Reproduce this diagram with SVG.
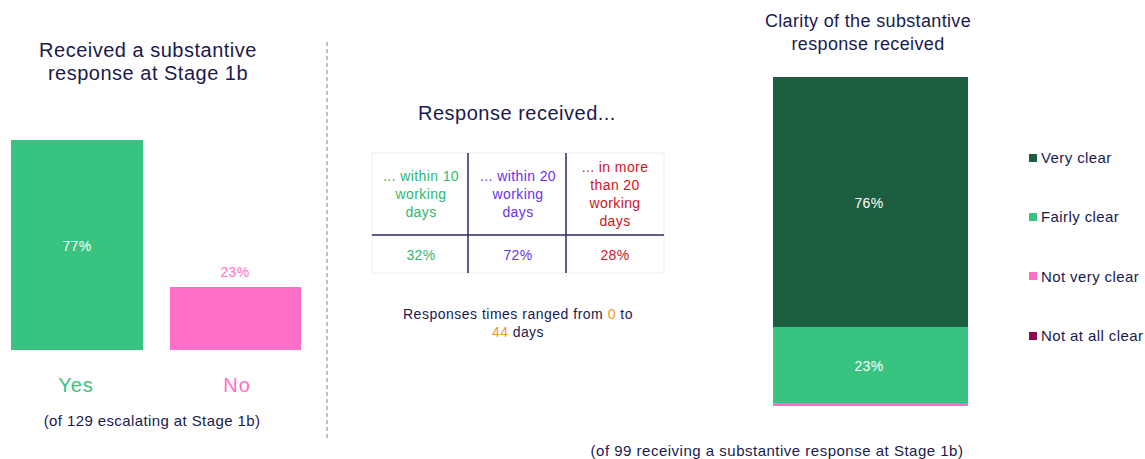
<svg xmlns="http://www.w3.org/2000/svg" width="1145" height="459" viewBox="0 0 1145 459">
<style>
text{font-family:"Liberation Sans",Arial,sans-serif;fill:#1a1a4e}
.t{font-size:20px;letter-spacing:0.5px;text-anchor:middle}
.s{font-size:15px;letter-spacing:0.4px;text-anchor:middle}
.c{font-size:14px;letter-spacing:0.4px;text-anchor:middle}
.w{fill:#ffffff;font-size:14px;letter-spacing:0.3px;text-anchor:middle}
.lg{font-size:15px;letter-spacing:0.4px}
.g{fill:#2eb872}.p{fill:#6a2ff0}.r{fill:#d0141e}
</style>
<rect width="1145" height="459" fill="#ffffff"/>
<g id="left-panel">
<text class="t" x="148" y="57">Received a substantive</text>
<text class="t" x="148" y="80">response at Stage 1b</text>
<g id="bar-yes"><rect x="11" y="140" width="132" height="210" fill="#38c381"/><text class="w" x="77" y="251">77%</text></g>
<g id="bar-no"><rect x="170" y="287" width="131" height="63" fill="#ff6ec7"/><text class="w" x="235" y="277" style="fill:#ff6ec7">23%</text></g>
<text class="t" x="76" y="392" style="fill:#38c381;letter-spacing:1px">Yes</text>
<text class="t" x="237" y="392" style="fill:#ff6ec7;letter-spacing:1px">No</text>
<text class="s" x="152" y="426">(of 129 escalating at Stage 1b)</text>
</g>
<g id="divider"><line x1="327" y1="42" x2="327" y2="438" stroke="#888" stroke-width="1" stroke-dasharray="4,3"/></g>
<g id="middle-panel">
<text class="t" x="517" y="120">Response received...</text>
<g id="table">
<rect x="372" y="153" width="292" height="120" fill="#fff" stroke="#eeeeee" stroke-width="1"/>
<line x1="468" y1="153" x2="468" y2="273" stroke="#2a2a5e" stroke-width="1.5"/>
<line x1="566" y1="153" x2="566" y2="273" stroke="#2a2a5e" stroke-width="1.5"/>
<line x1="372" y1="235" x2="664" y2="235" stroke="#2a2a5e" stroke-width="1.5"/>
<text class="c g" x="421" y="181">... within 10</text>
<text class="c g" x="421" y="199">working</text>
<text class="c g" x="421" y="217">days</text>
<text class="c p" x="518" y="181">... within 20</text>
<text class="c p" x="518" y="199">working</text>
<text class="c p" x="518" y="217">days</text>
<text class="c r" x="615" y="172">... in more</text>
<text class="c r" x="615" y="190">than 20</text>
<text class="c r" x="615" y="208">working</text>
<text class="c r" x="615" y="226">days</text>
<text class="c g" x="421" y="260">32%</text>
<text class="c p" x="518" y="260">72%</text>
<text class="c r" x="615" y="260">28%</text>
</g>
<text class="c" x="518" y="319" style="letter-spacing:0.5px">Responses times ranged from <tspan style="fill:#f7941d">0</tspan> to</text>
<text class="c" x="518" y="337"><tspan style="fill:#f7941d">44</tspan> days</text>
</g>
<g id="right-panel">
<text class="t" x="868" y="27" style="font-size:18px;letter-spacing:0.35px">Clarity of the substantive</text>
<text class="t" x="868" y="50" style="font-size:18px;letter-spacing:0.35px">response received</text>
<g id="stack-bar">
<rect x="773" y="77" width="195" height="250" fill="#1b5e40"/>
<rect x="773" y="327" width="195" height="76" fill="#38c381"/>
<rect x="773" y="403" width="195" height="3" fill="#ff6ec7"/>
<text class="w" x="869" y="208">76%</text>
<text class="w" x="869" y="371">23%</text>
</g>
<g id="legend">
<rect x="1029" y="154" width="8" height="8" fill="#1b5e40"/><text class="lg" x="1041" y="163">Very clear</text>
<rect x="1029" y="213" width="8" height="8" fill="#38c381"/><text class="lg" x="1041" y="222">Fairly clear</text>
<rect x="1029" y="272" width="8" height="8" fill="#ff6ec7"/><text class="lg" x="1041" y="282">Not very clear</text>
<rect x="1029" y="332" width="8" height="8" fill="#8b0a50"/><text class="lg" x="1041" y="341">Not at all clear</text>
</g>
<text class="s" x="777" y="456" style="letter-spacing:0.5px">(of 99 receiving a substantive response at Stage 1b)</text>
</g>
</svg>
